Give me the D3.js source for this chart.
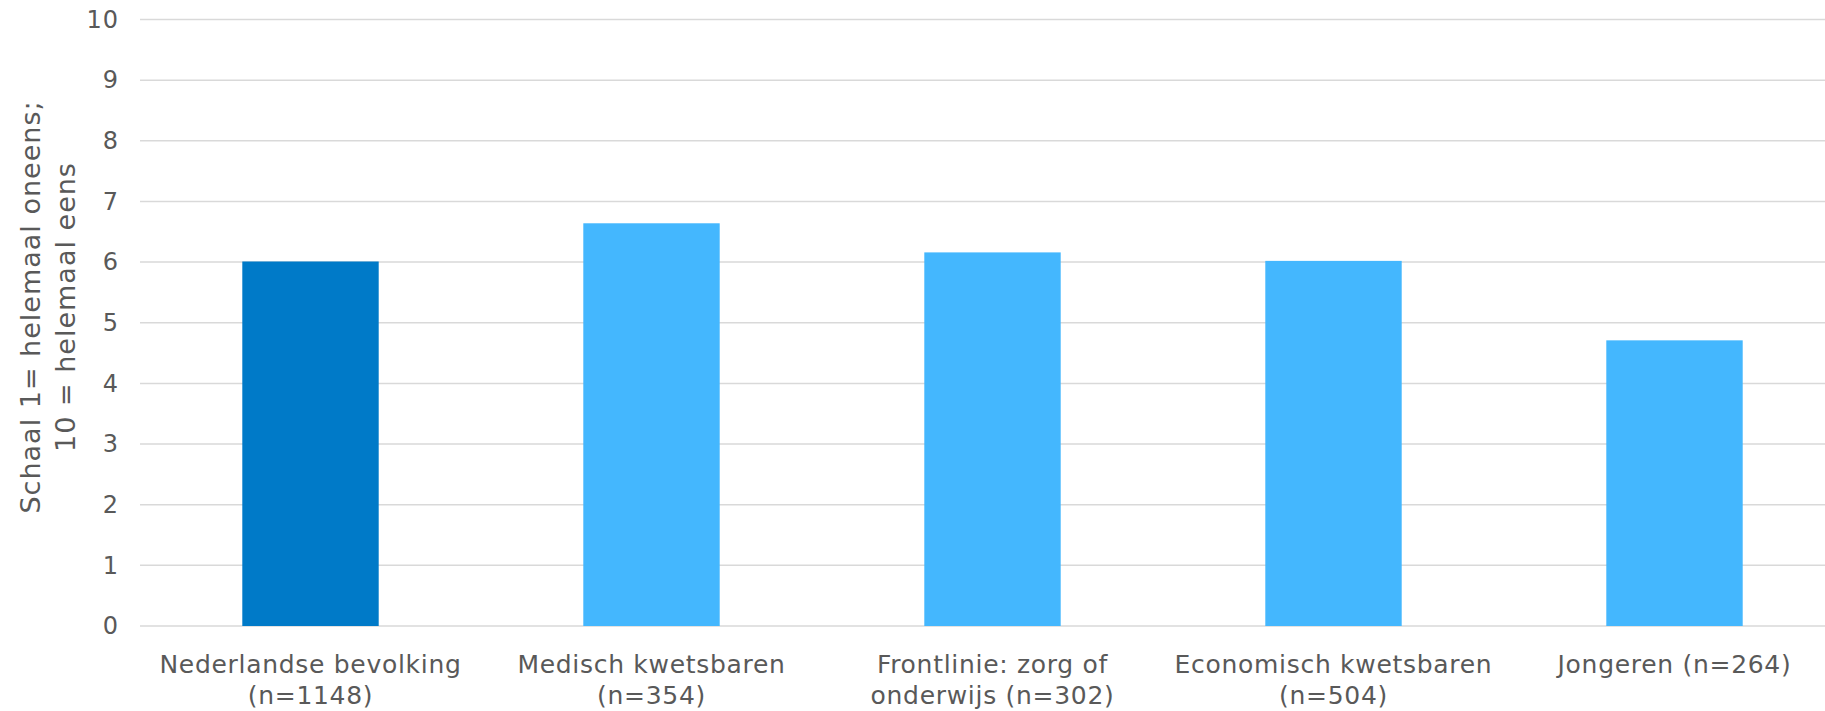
<!DOCTYPE html>
<html>
<head>
<meta charset="utf-8">
<script src="https://cdn.jsdelivr.net/npm/d3@7"></script>
<style>
  body { margin: 0; background: #fff; }
  text { font-family: "DejaVu Sans", Verdana, sans-serif; fill: #595959; }
</style>
</head>
<body>
<script>
// data
var categories = [
  ["Nederlandse bevolking", "(n=1148)"],
  ["Medisch kwetsbaren", "(n=354)"],
  ["Frontlinie: zorg of", "onderwijs (n=302)"],
  ["Economisch kwetsbaren", "(n=504)"],
  ["Jongeren (n=264)"]
];
var values = [6.01, 6.64, 6.16, 6.02, 4.71];
var yTicks = [0, 1, 2, 3, 4, 5, 6, 7, 8, 9, 10];
var yTitle = ["Schaal 1= helemaal oneens;", "10 = helemaal eens"];

var width = 1825;
var height = 711;

var svg = d3.select("body").append("svg")
    .attr("width", width)
    .attr("height", height);

var x = d3.scaleBand()
    .domain(d3.range(categories.length))
    .range([140, 1845])
    .paddingInner(0.6)
    .paddingOuter(0.3);

var y = d3.scaleLinear()
    .domain([0, 10])
    .range([626, 19.5]);

// gridlines
svg.append("g").attr("class", "grid")
  .selectAll("line")
  .data(yTicks)
  .enter().append("line")
    .attr("x1", 140)
    .attr("x2", width)
    .attr("y1", function(d) { return y(d); })
    .attr("y2", function(d) { return y(d); })
    .attr("stroke", "#d9d9d9")
    .attr("stroke-width", 1.5);

// y axis labels
var yAxis = svg.append("g")
    .attr("transform", "translate(119,0)")
    .call(d3.axisLeft(y).tickValues(yTicks).tickSize(0).tickPadding(0));
yAxis.select(".domain").remove();
yAxis.selectAll("text")
    .style("font-size", "24px")
    .style("letter-spacing", "1px")
    .attr("fill", "#595959");

// bars
svg.append("g").attr("class", "bars")
  .selectAll("rect")
  .data(values)
  .enter().append("rect")
    .attr("x", function(d, i) { return x(i); })
    .attr("width", x.bandwidth())
    .attr("y", function(d) { return y(d); })
    .attr("height", function(d) { return y(0) - y(d); })
    .attr("fill", function(d, i) { return i === 0 ? "#007ac8" : "#44b7fe"; });

// x labels
var xl = svg.append("g").attr("class", "xlabels")
  .selectAll("text")
  .data(categories)
  .enter().append("text")
    .attr("text-anchor", "middle")
    .attr("x", function(d, i) { return x(i) + x.bandwidth() / 2; })
    .attr("y", 673)
    .style("font-size", "25px")
    .style("letter-spacing", "0.7px");
xl.selectAll("tspan")
  .data(function(d) { return d; })
  .enter().append("tspan")
    .attr("x", function() { return d3.select(this.parentNode).attr("x"); })
    .attr("dy", function(d, i) { return i === 0 ? 0 : 31; })
    .text(function(d) { return d; });

// y title
svg.append("text")
    .attr("transform", "translate(31,307) rotate(-90)")
    .attr("text-anchor", "middle")
    .style("font-size", "27px")
    .style("letter-spacing", "1px")
  .selectAll("tspan")
  .data(yTitle)
  .enter().append("tspan")
    .attr("x", 0)
    .attr("dy", function(d, i) { return i === 0 ? 9 : 35; })
    .text(function(d) { return d; });
</script>
</body>
</html>
